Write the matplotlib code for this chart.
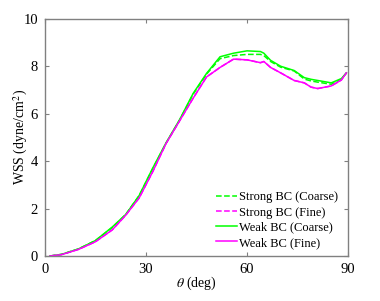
import matplotlib
matplotlib.use("Agg")
import matplotlib.pyplot as plt

plt.rcParams["font.family"] = ["Liberation Serif", "DejaVu Serif"]
plt.rcParams["mathtext.fontset"] = "stix"

# angle (deg) and wall shear stress (dyne/cm^2)
theta = [1.5, 5, 10, 15, 20, 24, 28, 32, 36, 40, 44, 48, 52, 56, 60,
         64, 65, 67, 70, 74, 77, 79, 81, 85, 88, 89.5]
weak_coarse = [0.0, 0.07, 0.3, 0.65, 1.22, 1.75, 2.55, 3.7, 4.78, 5.75, 6.85,
               7.7, 8.4, 8.55, 8.65, 8.62, 8.55, 8.25, 8.0, 7.82, 7.52, 7.45,
               7.4, 7.3, 7.48, 7.72]
strong_coarse = [0.0, 0.07, 0.3, 0.65, 1.2, 1.75, 2.55, 3.68, 4.76, 5.73, 6.82,
                 7.67, 8.32, 8.45, 8.5, 8.5, 8.45, 8.2, 7.96, 7.8, 7.46, 7.38,
                 7.33, 7.24, 7.45, 7.72]
weak_fine = [0.0, 0.06, 0.28, 0.6, 1.1, 1.72, 2.45, 3.55, 4.75, 5.7, 6.65,
             7.55, 7.95, 8.3, 8.27, 8.15, 8.2, 7.95, 7.72, 7.4, 7.3, 7.12,
             7.06, 7.17, 7.42, 7.72]
strong_fine = weak_fine

fig = plt.figure(figsize=(3.8, 3.01), dpi=100)
ax = fig.add_axes([0.118, 0.1495, 0.798, 0.788])

ax.plot(theta, strong_coarse, "--", color="#00ff00", lw=1.1, label="Strong BC (Coarse)")
ax.plot(theta, strong_fine, "--", color="#ff00ff", lw=1.1, label="Strong BC (Fine)")
ax.plot(theta, weak_coarse, "-", color="#00ff00", lw=1.1, label="Weak BC (Coarse)")
ax.plot(theta, weak_fine, "-", color="#ff00ff", lw=1.1, label="Weak BC (Fine)")

ax.set_xlim(0, 90)
ax.set_ylim(0, 10)
ax.set_xticks([0, 30, 60, 90])
ax.set_yticks([0, 2, 4, 6, 8, 10])
ax.tick_params(direction="in", top=True, right=True, length=3, width=0.8,
               color="#808080", labelsize=10.5, pad=5)
for s in ax.spines.values():
    s.set_color("#808080")
    s.set_linewidth(1.0)

ax.set_xlabel(r"$\theta$ (deg)", fontsize=10)
ax.set_ylabel(r"WSS (dyne/cm$^2$)", fontsize=10)
ax.xaxis.set_label_coords(0.5, -0.08)
ax.yaxis.set_label_coords(-0.05, 0.5)

ax.legend(loc="upper left", frameon=False, fontsize=9, handlelength=1.7,
          handletextpad=0.15, labelspacing=0.25, borderpad=0, borderaxespad=0,
          bbox_to_anchor=(0.564, 0.272))

fig.savefig("out.png", dpi=100)
